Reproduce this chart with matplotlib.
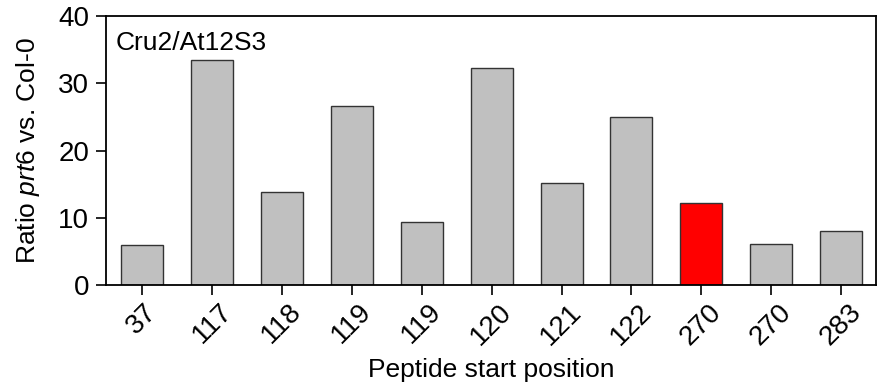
import matplotlib as mpl
mpl.use('Agg')
import matplotlib.pyplot as plt

plt.rcParams['font.family'] = ['Liberation Sans', 'DejaVu Sans']
plt.rcParams['mathtext.fontset'] = 'custom'
plt.rcParams['mathtext.it'] = 'Liberation Sans:italic'
plt.rcParams['mathtext.rm'] = 'Liberation Sans'

# data
positions = ['37', '117', '118', '119', '119', '120', '121', '122', '270', '270', '283']
ratios    = [5.9, 33.5, 13.8, 26.6, 9.4, 32.2, 15.1, 25.0, 12.2, 6.1, 8.0]
highlight = 8   # the red bar

colors = ['#c0c0c0'] * len(ratios)
colors[highlight] = '#ff0000'

fig = plt.figure(figsize=(8.78, 3.89), dpi=100)
ax = fig.add_axes([106/878, 1 - 285/389, 770/878, 269/389])

x = range(len(ratios))
ax.bar(x, ratios, width=0.6, color=colors, edgecolor='#333333', linewidth=1.0)

ax.set_xlim(-0.52, 10.5)
ax.set_ylim(0, 40)
ax.set_yticks([0, 10, 20, 30, 40])
ax.set_xticks(list(x))
ax.set_xticklabels(positions, rotation=45, ha='center')
ax.tick_params(axis='both', direction='out', length=7, width=1.2, labelsize=20, colors='black')
ax.tick_params(axis='x', pad=3)
ax.tick_params(axis='y', pad=5)
for s in ax.spines.values():
    s.set_linewidth(1.3)

ax.set_ylabel('Ratio $\\mathit{prt6}$ vs. Col-0', fontsize=19, labelpad=12)
ax.set_xlabel('Peptide start position', fontsize=19, labelpad=6)
ax.text(0.013, 0.945, 'Cru2/At12S3', transform=ax.transAxes, fontsize=19, va='top', ha='left')

fig.savefig('out.png', dpi=100)
